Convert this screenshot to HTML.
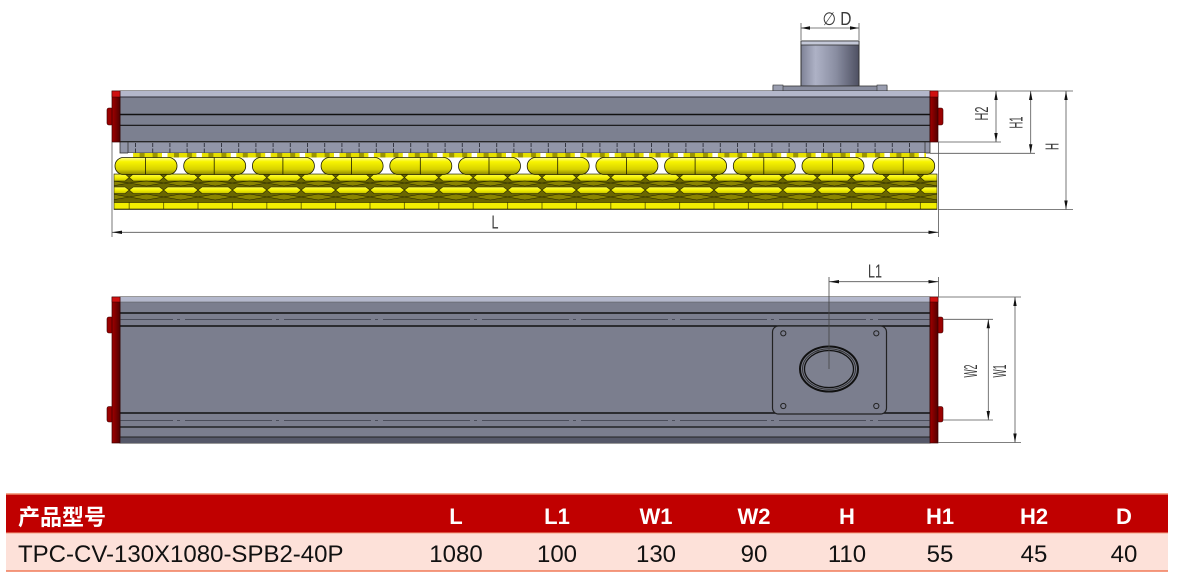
<!DOCTYPE html>
<html><head><meta charset="utf-8">
<style>
html,body{margin:0;padding:0;background:#fff;width:1180px;height:586px;overflow:hidden}
svg{display:block}
.d{font-family:"Liberation Sans","DejaVu Sans",sans-serif;fill:#3a3a3a;font-size:18px}
.th{font-family:"Liberation Sans","Noto Sans CJK SC",sans-serif;fill:#fff;font-weight:bold;font-size:22px}
.td{font-family:"Liberation Sans","Noto Sans CJK SC",sans-serif;fill:#111;font-size:24px}
</style></head>
<body>
<svg width="1180" height="586" viewBox="0 0 1180 586" xmlns="http://www.w3.org/2000/svg">
<defs>
 <linearGradient id="gOval" x1="0" y1="0" x2="0" y2="1">
  <stop offset="0" stop-color="#ffff90"/><stop offset=".25" stop-color="#f8f400"/><stop offset=".7" stop-color="#d8d200"/><stop offset="1" stop-color="#8a8400"/>
 </linearGradient>
 <linearGradient id="gF" x1="0" y1="0" x2="0" y2="1">
  <stop offset="0" stop-color="#ffff50"/><stop offset=".5" stop-color="#f4f000"/><stop offset="1" stop-color="#c8c200"/>
 </linearGradient>
 <linearGradient id="gCyl" x1="0" y1="0" x2="1" y2="0">
  <stop offset="0" stop-color="#7e8296"/><stop offset=".25" stop-color="#aeb2c6"/><stop offset=".6" stop-color="#8a8ea2"/><stop offset="1" stop-color="#4e5062"/>
 </linearGradient>
 <linearGradient id="gRed" x1="0" y1="0" x2="1" y2="0">
  <stop offset="0" stop-color="#a00000"/><stop offset=".5" stop-color="#7a0000"/><stop offset="1" stop-color="#520000"/>
 </linearGradient>
 <pattern id="pStrip" x="135" y="142" width="17.2" height="11" patternUnits="userSpaceOnUse">
  <line x1="0.5" y1="1" x2="0.5" y2="11" stroke="#2c2e38" stroke-width="0.9" stroke-dasharray="4 1.5"/>
 </pattern>
 <pattern id="pTab" x="162" y="153" width="34.4" height="5" patternUnits="userSpaceOnUse">
  <rect x="0" y="0" width="5.5" height="5" fill="#ffffff"/>
  <rect x="5.5" y="0" width="28.9" height="5" fill="#e6e000"/>
  <rect x="12" y="0" width="5" height="5" fill="#9a9400"/>
  <rect x="25" y="0" width="5" height="5" fill="#9a9400"/>
 </pattern>
 <pattern id="pBel" x="129.2" y="174" width="34.4" height="36" patternUnits="userSpaceOnUse">
  <rect x="0" y="0" width="34.4" height="36" fill="#6a6600"/>
  <polygon points="0,3.5 4,0 30.4,0 34.4,3.5 30.4,7 4,7" fill="url(#gF)" stroke="#1e1e00" stroke-width=".6"/>
  <polygon points="0,9 17.2,7 34.4,9 17.2,12" fill="#8a8400" stroke="#1e1e00" stroke-width=".5"/>
  <polygon points="0,16 4,13 30.4,13 34.4,16 30.4,19.5 4,19.5" fill="url(#gF)" stroke="#1e1e00" stroke-width=".6"/>
  <polygon points="0,23 17.2,20 34.4,23 17.2,26" fill="#8a8400" stroke="#1e1e00" stroke-width=".5"/>
  <rect x="0" y="28.5" width="34.4" height="6.5" fill="#f2ee00" stroke="#1e1e00" stroke-width=".6"/>
 </pattern>
 <g id="cup">
  <rect x="0" y="157.5" width="62" height="17" rx="8.4" fill="url(#gOval)" stroke="#1e1e00" stroke-width=".8"/>
  <line x1="30.5" y1="157.5" x2="30.5" y2="174.5" stroke="#1e1e00" stroke-width=".8"/>
 </g>
</defs>

<!-- ================= TOP (ELEVATION) VIEW ================= -->
<rect x="801" y="41" width="58" height="45" fill="url(#gCyl)" stroke="#333" stroke-width="1"/>
<rect x="801" y="41" width="58" height="4" fill="#c4c8d8" stroke="#333" stroke-width=".8"/>
<rect x="773" y="86" width="114" height="5" fill="#8a8ea0" stroke="#333" stroke-width=".8"/>
<rect x="773" y="85" width="10" height="6" fill="#9a9eb0" stroke="#333" stroke-width=".6"/>
<rect x="877" y="85" width="10" height="6" fill="#9a9eb0" stroke="#333" stroke-width=".6"/>

<rect x="120" y="91" width="810" height="51" fill="#7c8090" stroke="#333" stroke-width="1"/>
<rect x="120" y="91" width="810" height="6" fill="#b3b7ca"/>
<line x1="120" y1="97" x2="930" y2="97" stroke="#2a2a33" stroke-width="1"/>
<line x1="120" y1="114.5" x2="930" y2="114.5" stroke="#111" stroke-width="1.5"/>
<line x1="120" y1="125.3" x2="930" y2="125.3" stroke="#111" stroke-width="1.2"/>
<line x1="120" y1="141.5" x2="930" y2="141.5" stroke="#222" stroke-width="1"/>

<rect x="120" y="142" width="810" height="11" fill="#9296a8" stroke="#333" stroke-width=".8"/>
<rect x="128" y="142.5" width="797" height="10" fill="url(#pStrip)"/>
<line x1="128" y1="142" x2="128" y2="153" stroke="#333" stroke-width=".8"/>
<line x1="925" y1="142" x2="925" y2="153" stroke="#333" stroke-width=".8"/>

<rect x="128" y="153" width="798" height="4.5" fill="url(#pTab)"/>

<!-- bellows -->
<rect x="114" y="174" width="823" height="35.5" fill="url(#pBel)" stroke="#1e1e00" stroke-width=".6"/>
<use href="#cup" x="115"/><use href="#cup" x="183.7"/><use href="#cup" x="252.4"/><use href="#cup" x="321.1"/>
<use href="#cup" x="389.8"/><use href="#cup" x="458.5"/><use href="#cup" x="527.2"/><use href="#cup" x="595.9"/>
<use href="#cup" x="664.6"/><use href="#cup" x="733.3"/><use href="#cup" x="802"/><use href="#cup" x="872.7"/>

<!-- red end caps top view -->
<rect x="107" y="108" width="6" height="17" rx="2" fill="#9a0000" stroke="#3a0000" stroke-width=".6"/>
<rect x="112" y="91" width="8" height="51" fill="url(#gRed)" stroke="#3a0000" stroke-width=".7"/>
<rect x="112" y="91" width="8" height="6" fill="#d01010" stroke="#3a0000" stroke-width=".5"/>
<rect x="937" y="108" width="6" height="17" rx="2" fill="#9a0000" stroke="#3a0000" stroke-width=".6"/>
<rect x="930" y="91" width="8" height="51" fill="url(#gRed)" stroke="#3a0000" stroke-width=".7"/>
<rect x="930" y="91" width="8" height="6" fill="#d01010" stroke="#3a0000" stroke-width=".5"/>

<!-- dims top view -->
<g stroke="#555" stroke-width=".8" fill="none">
 <line x1="801" y1="23" x2="801" y2="40"/><line x1="859" y1="23" x2="859" y2="40"/>
 <line x1="801" y1="28" x2="859" y2="28"/>
 <line x1="112" y1="142" x2="112" y2="237"/><line x1="938.5" y1="142" x2="938.5" y2="237"/>
 <line x1="112" y1="232.3" x2="938.5" y2="232.3"/>
 <line x1="938" y1="91" x2="1073" y2="91"/>
 <line x1="938" y1="142" x2="1001" y2="142"/>
 <line x1="930" y1="153.3" x2="1035" y2="153.3"/>
 <line x1="938" y1="209.5" x2="1073" y2="209.5"/>
 <line x1="996" y1="91" x2="996" y2="142"/>
 <line x1="1030.7" y1="91" x2="1030.7" y2="153.3"/>
 <line x1="1066" y1="91" x2="1066" y2="209.5"/>
</g>
<g fill="#111">
 <polygon points="801,28 810,26.3 810,29.7"/><polygon points="859,28 850,26.3 850,29.7"/>
 <polygon points="112,232.3 122,230.6 122,234"/><polygon points="938.5,232.3 928.5,230.6 928.5,234"/>
 <polygon points="996,91 994.3,100 997.7,100"/><polygon points="996,142 994.3,133 997.7,133"/>
 <polygon points="1030.7,91 1029,100 1032.4,100"/><polygon points="1030.7,153.3 1029,144.3 1032.4,144.3"/>
 <polygon points="1066,91 1064.3,100 1067.7,100"/><polygon points="1066,209.5 1064.3,200.5 1067.7,200.5"/>
</g>
<text class="d" x="837" y="25" text-anchor="middle" textLength="29" lengthAdjust="spacingAndGlyphs">∅ D</text>
<text class="d" x="495" y="228.5" text-anchor="middle" textLength="7" lengthAdjust="spacingAndGlyphs" font-size="15">L</text>
<text class="d" transform="translate(988,113.5) rotate(-90)" text-anchor="middle" textLength="14" lengthAdjust="spacingAndGlyphs">H2</text>
<text class="d" transform="translate(1022.5,122.5) rotate(-90)" text-anchor="middle" textLength="12" lengthAdjust="spacingAndGlyphs">H1</text>
<text class="d" transform="translate(1058.5,146.5) rotate(-90)" text-anchor="middle" textLength="7" lengthAdjust="spacingAndGlyphs">H</text>

<!-- ================= PLAN VIEW ================= -->
<rect x="120" y="297" width="810" height="146" fill="#7b7e8e" stroke="#333" stroke-width="1"/>
<rect x="120" y="297" width="810" height="5" fill="#b4b8cc"/>
<line x1="120" y1="302" x2="930" y2="302" stroke="#555" stroke-width=".6"/>
<line x1="120" y1="313" x2="930" y2="313" stroke="#111" stroke-width="1.5"/>
<line x1="120" y1="326" x2="930" y2="326" stroke="#111" stroke-width="1.5"/>
<line x1="120" y1="413" x2="930" y2="413" stroke="#111" stroke-width="1.5"/>
<line x1="120" y1="427" x2="930" y2="427" stroke="#111" stroke-width="1.3"/>
<rect x="120" y="437" width="810" height="6" fill="#555868"/>
<line x1="120" y1="437" x2="930" y2="437" stroke="#222" stroke-width="1"/>
<g stroke="#4a4d5a" stroke-width="1" stroke-dasharray="87 4 3 5" stroke-dashoffset="34">
 <line x1="120" y1="319.5" x2="930" y2="319.5"/>
 <line x1="120" y1="420.5" x2="930" y2="420.5"/>
</g>

<rect x="772.5" y="326" width="114" height="88" rx="6" fill="#7b7e8e" stroke="#222" stroke-width="1.2"/>
<g fill="none" stroke="#222" stroke-width="1">
 <circle cx="783.3" cy="333.3" r="2.6"/><circle cx="876.3" cy="333.3" r="2.6"/>
 <circle cx="783.3" cy="406" r="2.6"/><circle cx="876.3" cy="406" r="2.6"/>
</g>
<ellipse cx="829" cy="369" rx="29" ry="22.5" fill="#7b7e8e" stroke="#111" stroke-width="2"/>
<ellipse cx="829" cy="369" rx="26.5" ry="20.3" fill="none" stroke="#333" stroke-width="1"/>
<ellipse cx="829" cy="369" rx="24.5" ry="18.5" fill="#7d808f" stroke="#111" stroke-width="1.3"/>
<line x1="829" y1="277" x2="829" y2="369" stroke="#444" stroke-width=".8"/>

<rect x="107" y="317" width="6" height="16" rx="2" fill="#9a0000" stroke="#3a0000" stroke-width=".6"/>
<rect x="107" y="406.5" width="6" height="15.5" rx="2" fill="#9a0000" stroke="#3a0000" stroke-width=".6"/>
<rect x="112" y="297" width="8" height="146" fill="url(#gRed)" stroke="#3a0000" stroke-width=".7"/>
<rect x="112" y="297" width="8" height="5" fill="#d01010" stroke="#3a0000" stroke-width=".5"/>
<rect x="937" y="317" width="6" height="16" rx="2" fill="#9a0000" stroke="#3a0000" stroke-width=".6"/>
<rect x="937" y="406.5" width="6" height="15.5" rx="2" fill="#9a0000" stroke="#3a0000" stroke-width=".6"/>
<rect x="930" y="297" width="8" height="146" fill="url(#gRed)" stroke="#3a0000" stroke-width=".7"/>
<rect x="930" y="297" width="8" height="5" fill="#d01010" stroke="#3a0000" stroke-width=".5"/>

<g stroke="#555" stroke-width=".8" fill="none">
 <line x1="938.5" y1="277" x2="938.5" y2="297"/>
 <line x1="829" y1="281.7" x2="938.5" y2="281.7"/>
 <line x1="943" y1="319.3" x2="993" y2="319.3"/>
 <line x1="943" y1="420" x2="993" y2="420"/>
 <line x1="988.3" y1="319.3" x2="988.3" y2="420"/>
 <line x1="938" y1="297" x2="1021" y2="297"/>
 <line x1="938" y1="442.5" x2="1021" y2="442.5"/>
 <line x1="1015" y1="297" x2="1015" y2="442.5"/>
</g>
<g fill="#111">
 <polygon points="829,281.7 839,280 839,283.4"/><polygon points="938.5,281.7 928.5,280 928.5,283.4"/>
 <polygon points="988.3,319.3 986.6,328.3 990,328.3"/><polygon points="988.3,420 986.6,411 990,411"/>
 <polygon points="1015,297 1013.3,306 1016.7,306"/><polygon points="1015,442.5 1013.3,433.5 1016.7,433.5"/>
</g>
<text class="d" x="875" y="277.5" text-anchor="middle" textLength="14" lengthAdjust="spacingAndGlyphs">L1</text>
<text class="d" transform="translate(977,371) rotate(-90)" text-anchor="middle" textLength="13" lengthAdjust="spacingAndGlyphs">W2</text>
<text class="d" transform="translate(1006,371) rotate(-90)" text-anchor="middle" textLength="13" lengthAdjust="spacingAndGlyphs">W1</text>

<!-- ================= TABLE ================= -->
<rect x="6" y="494" width="1162" height="39" fill="#c00000"/>
<rect x="6" y="533" width="1162" height="38" fill="#fde1d9"/>
<line x1="6" y1="494" x2="1168" y2="494" stroke="#f08a6a" stroke-width="1.5"/>
<line x1="6" y1="533" x2="1168" y2="533" stroke="#f4a488" stroke-width="1"/>
<line x1="6" y1="571" x2="1168" y2="571" stroke="#f07a58" stroke-width="1.5"/>

<text class="th" x="18" y="525" font-size="24">产品型号</text>
<g text-anchor="middle">
 <text x="456" y="524" class="th">L</text>
 <text x="557" y="524" class="th">L1</text>
 <text x="656" y="524" class="th">W1</text>
 <text x="754" y="524" class="th">W2</text>
 <text x="847" y="524" class="th">H</text>
 <text x="940" y="524" class="th">H1</text>
 <text x="1034" y="524" class="th">H2</text>
 <text x="1124" y="524" class="th">D</text>
</g>
<text class="td" x="18" y="562">TPC-CV-130X1080-SPB2-40P</text>
<g text-anchor="middle">
 <text class="td" x="456" y="562">1080</text>
 <text class="td" x="557" y="562">100</text>
 <text class="td" x="656" y="562">130</text>
 <text class="td" x="754" y="562">90</text>
 <text class="td" x="847" y="562">110</text>
 <text class="td" x="940" y="562">55</text>
 <text class="td" x="1034" y="562">45</text>
 <text class="td" x="1124" y="562">40</text>
</g>
</svg>
</body></html>
